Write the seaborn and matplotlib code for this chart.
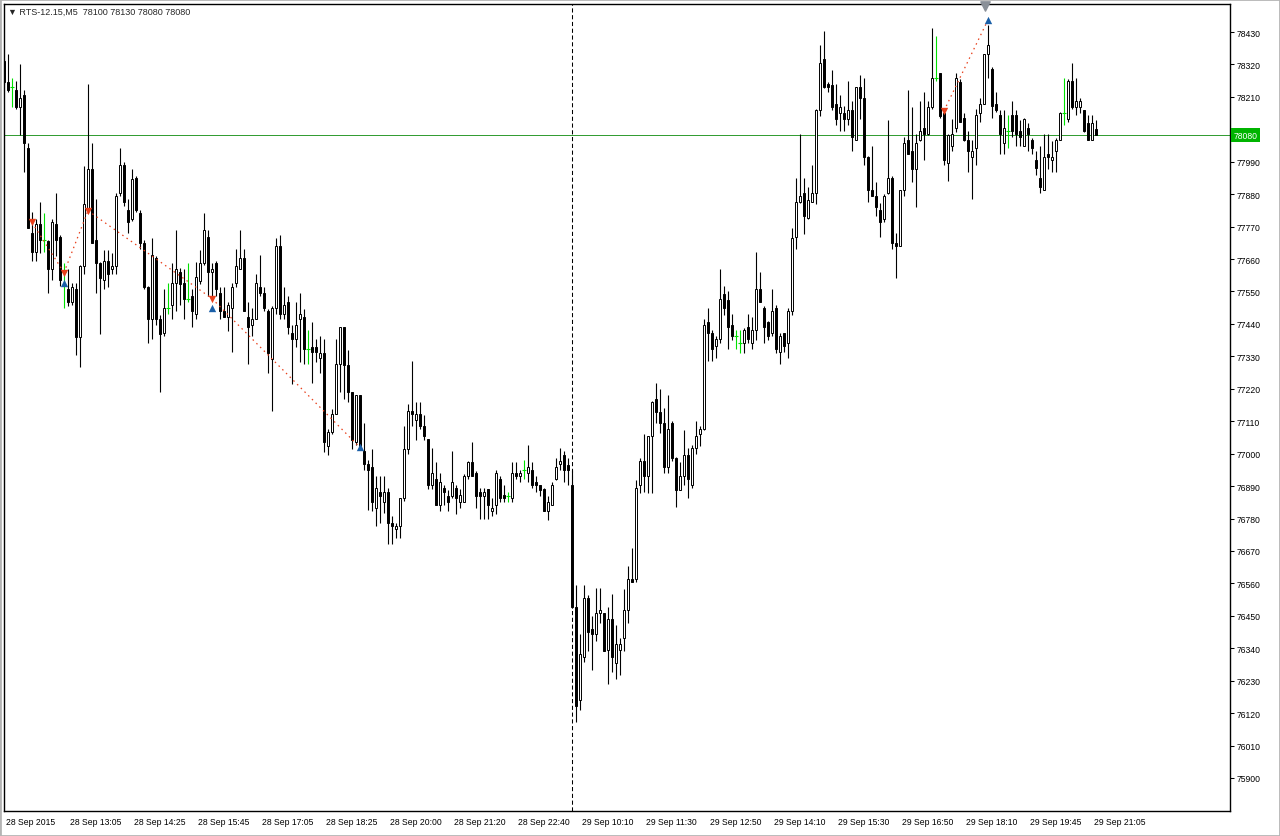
import numpy as np
import pandas as pd
import matplotlib
matplotlib.use("Agg")
import matplotlib.pyplot as plt
import seaborn as sns
from matplotlib.transforms import ScaledTranslation, blended_transform_factory
from matplotlib.patches import Rectangle

# RTS-12.15, M5 candles
opens = [78330, 78260, 78245, 78235, 78175, 78215, 78035, 77750, 77685, 77780,
         77725, 77720, 77625, 77780, 77735, 77615, 77560, 77515, 77560, 77395,
         77635, 77825, 77965, 77725, 77645, 77590, 77655, 77625, 77635, 77885,
         77980, 77825, 77795, 77935, 77815, 77715, 77565, 77455, 77665, 77455,
         77410, 77495, 77505, 77580, 77615, 77580, 77525, 77535, 77475, 77585,
         77645, 77735, 77615, 77645, 77545, 77485, 77465, 77495, 77580, 77625,
         77665, 77465, 77435, 77455, 77565, 77545, 77485, 77320, 77495, 77705,
         77475, 77515, 77410, 77390, 77455, 77465, 77355, 77360, 77360, 77325,
         77340, 77025, 77075, 77135, 77305, 77430, 77300, 77210, 77040, 77200,
         77010, 76965, 76955, 76815, 76870, 76835, 76870, 76765, 76745, 76755,
         76850, 77015, 77145, 77115, 77135, 77095, 77050, 76895, 76915, 76825,
         76885, 76855, 76855, 76885, 76835, 76835, 76925, 76970, 76935, 76870,
         76855, 76880, 76805, 76825, 76915, 76860, 76855, 76850, 76935, 76925,
         76945, 76935, 76945, 76905, 76895, 76880, 76805, 76825, 76915, 76965,
         76995, 76960, 76895, 76480, 76165, 76310, 76510, 76405, 76390, 76460,
         76460, 76335, 76440, 76290, 76335, 76375, 76470, 76575, 76575, 76895,
         76975, 76925, 77060, 77185, 77140, 77105, 76955, 77105, 76985, 76875,
         76925, 76995, 76895, 77020, 77065, 77085, 77445, 77410, 77365, 77390,
         77540, 77520, 77435, 77400, 77375, 77375, 77430, 77375, 77420, 77560,
         77495, 77445, 77410, 77495, 77345, 77410, 77375, 77485, 77735, 77855,
         77885, 77800, 77855, 77885, 78165, 78340, 78255, 78250, 78185, 78155,
         78155, 78135, 78165, 78065, 78245, 78205, 78005, 77895, 77875, 77825,
         77795, 77885, 77935, 77715, 77705, 77895, 78065, 78025, 77965, 78065,
         78105, 78085, 78175, 78275, 78290, 78155, 77985, 78045, 78105, 78260,
         78140, 78065, 78005, 78035, 78155, 78185, 78355, 78305, 78185, 78150,
         78055, 78095, 78150, 78150, 78095, 78045, 78105, 78065, 77995, 77935,
         77895, 78015, 77995, 78025, 78065, 78155, 78135, 78265, 78175, 78175,
         78165, 78120, 78065, 78100]
highs = [78340, 78355, 78275, 78265, 78320, 78235, 78055, 77820, 77795, 77855,
         77815, 77725, 77795, 77885, 77740, 77645, 77625, 77580, 77580, 77640,
         77975, 78255, 78055, 77865, 77650, 77690, 77690, 77680, 77885, 78035,
         77990, 77865, 77965, 77940, 77825, 77725, 77570, 77730, 77670, 77470,
         77560, 77580, 77645, 77760, 77630, 77625, 77645, 77560, 77650, 77690,
         77815, 77760, 77645, 77655, 77565, 77565, 77515, 77580, 77695, 77760,
         77695, 77515, 77495, 77610, 77675, 77565, 77490, 77500, 77730, 77740,
         77565, 77535, 77435, 77515, 77545, 77490, 77420, 77445, 77390, 77400,
         77390, 77085, 77150, 77390, 77430, 77430, 77350, 77210, 77200, 77200,
         77105, 76980, 77015, 76925, 76925, 76925, 76885, 76790, 76765, 76850,
         77095, 77170, 77315, 77175, 77175, 77130, 77050, 77020, 76970, 76935,
         76895, 76875, 77010, 76895, 76880, 76930, 76975, 77040, 76940, 76885,
         76885, 76880, 76850, 76945, 76925, 76895, 76870, 76970, 76970, 76945,
         76980, 77030, 76970, 76925, 76895, 76885, 76855, 76905, 76985, 77020,
         77010, 76985, 76945, 76555, 76390, 76555, 76520, 76450, 76545, 76545,
         76460, 76480, 76525, 76420, 76375, 76540, 76620, 76680, 76910, 76985,
         77065, 77060, 77180, 77240, 77220, 77155, 77200, 77110, 76990, 76970,
         77080, 77020, 77030, 77110, 77095, 77455, 77495, 77420, 77400, 77625,
         77570, 77550, 77475, 77420, 77420, 77425, 77475, 77465, 77685, 77615,
         77500, 77450, 77560, 77505, 77410, 77410, 77495, 77765, 77935, 78085,
         77935, 77905, 77980, 78170, 78385, 78435, 78260, 78300, 78255, 78215,
         78180, 78265, 78195, 78245, 78285, 78275, 78010, 78045, 77920, 77850,
         77880, 78130, 77940, 77750, 77895, 78075, 78235, 78175, 78085, 78195,
         78225, 78195, 78445, 78415, 78290, 78170, 78085, 78135, 78290, 78270,
         78155, 78095, 78065, 78170, 78205, 78355, 78455, 78310, 78225, 78165,
         78165, 78150, 78195, 78165, 78130, 78140, 78120, 78070, 78025, 78045,
         78085, 78085, 78060, 78070, 78160, 78275, 78270, 78325, 78275, 78205,
         78165, 78150, 78150, 78130]
lows = [78255, 78225, 78175, 78170, 78080, 77955, 77765, 77655, 77655, 77680,
        77685, 77545, 77590, 77670, 77570, 77495, 77500, 77505, 77335, 77295,
        77610, 77820, 77715, 77545, 77405, 77560, 77565, 77610, 77610, 77875,
        77840, 77750, 77790, 77820, 77695, 77560, 77375, 77390, 77435, 77210,
        77400, 77475, 77455, 77485, 77505, 77455, 77515, 77430, 77455, 77575,
        77640, 77535, 77535, 77535, 77455, 77465, 77415, 77345, 77565, 77625,
        77485, 77305, 77400, 77455, 77535, 77485, 77275, 77145, 77475, 77455,
        77455, 77405, 77235, 77360, 77310, 77305, 77305, 77240, 77310, 77275,
        77005, 76995, 77065, 77135, 77210, 77185, 77175, 77015, 77030, 77025,
        76945, 76810, 76805, 76755, 76765, 76800, 76695, 76695, 76715, 76715,
        76840, 77000, 77095, 77045, 77085, 77045, 76880, 76880, 76825, 76805,
        76825, 76805, 76850, 76795, 76815, 76835, 76915, 76925, 76815, 76780,
        76780, 76780, 76790, 76795, 76835, 76835, 76835, 76835, 76915, 76905,
        76915, 76905, 76885, 76870, 76855, 76805, 76775, 76825, 76910, 76945,
        76905, 76895, 76475, 76090, 76130, 76295, 76330, 76265, 76365, 76425,
        76330, 76220, 76260, 76235, 76250, 76330, 76425, 76565, 76565, 76865,
        76870, 76865, 76865, 77105, 77070, 76935, 76935, 76975, 76820, 76875,
        76895, 76850, 76885, 77000, 77025, 77080, 77315, 77315, 77325, 77375,
        77470, 77355, 77385, 77355, 77340, 77340, 77375, 77355, 77385, 77515,
        77375, 77385, 77400, 77340, 77305, 77345, 77325, 77470, 77695, 77850,
        77745, 77795, 77855, 77845, 78145, 78240, 78225, 78165, 78115, 78095,
        78095, 78115, 78025, 78065, 78135, 77980, 77855, 77875, 77805, 77735,
        77785, 77880, 77695, 77595, 77705, 77875, 78015, 77920, 77835, 78060,
        77995, 78080, 78170, 78265, 78140, 77980, 77925, 78025, 78090, 78125,
        78060, 77955, 77865, 77980, 78125, 78185, 78275, 78140, 78160, 78015,
        78015, 78035, 78075, 78045, 78045, 78045, 78025, 78015, 77945, 77885,
        77895, 77965, 77955, 77955, 78065, 78115, 78125, 78170, 78150, 78155,
        78090, 78065, 78065, 78080]
closes = [78260, 78235, 78245, 78175, 78205, 78055, 77765, 77685, 77780, 77725,
          77725, 77625, 77785, 77725, 77590, 77615, 77515, 77565, 77395, 77635,
          77845, 77965, 77715, 77645, 77595, 77655, 77610, 77635, 77875, 77980,
          77855, 77785, 77930, 77825, 77715, 77565, 77455, 77675, 77455, 77405,
          77495, 77495, 77580, 77625, 77575, 77525, 77525, 77485, 77600, 77645,
          77760, 77615, 77625, 77560, 77485, 77465, 77505, 77565, 77635, 77665,
          77485, 77430, 77455, 77580, 77545, 77495, 77340, 77495, 77705, 77475,
          77505, 77430, 77390, 77435, 77475, 77355, 77355, 77345, 77345, 77340,
          77040, 77075, 77135, 77305, 77430, 77300, 77210, 77045, 77200, 77025,
          76965, 76945, 76835, 76885, 76855, 76870, 76765, 76755, 76755, 76850,
          77015, 77145, 77135, 77135, 77095, 77060, 76895, 76935, 76825, 76905,
          76870, 76835, 76905, 76850, 76860, 76925, 76970, 76925, 76855, 76855,
          76870, 76825, 76815, 76935, 76850, 76850, 76855, 76935, 76925, 76935,
          76945, 76955, 76895, 76895, 76875, 76805, 76835, 76895, 76955, 76975,
          76945, 76945, 76480, 76145, 76320, 76510, 76395, 76390, 76460, 76470,
          76330, 76440, 76310, 76355, 76355, 76470, 76575, 76565, 76885, 76975,
          76925, 77060, 77175, 77140, 77105, 76955, 77085, 76985, 76875, 76925,
          76995, 76915, 77020, 77060, 77085, 77435, 77410, 77355, 77390, 77525,
          77495, 77430, 77400, 77400, 77375, 77420, 77390, 77420, 77560, 77515,
          77430, 77400, 77485, 77355, 77400, 77365, 77485, 77730, 77855, 77875,
          77805, 77860, 77885, 78165, 78325, 78245, 78245, 78175, 78135, 78175,
          78135, 78165, 78075, 78245, 78205, 78005, 77895, 77875, 77835, 77785,
          77875, 77935, 77715, 77705, 77895, 78055, 78015, 77965, 78055, 78095,
          78085, 78175, 78275, 78275, 78145, 77995, 78080, 78085, 78275, 78125,
          78065, 78025, 78025, 78150, 78185, 78355, 78385, 78180, 78165, 78085,
          78105, 78095, 78095, 78085, 78075, 78135, 78085, 78035, 77970, 77905,
          78005, 78005, 78005, 78065, 78155, 78155, 78265, 78175, 78195, 78195,
          78095, 78065, 78120, 78080]

x_tick_bars = list(range(0, 273, 16))
x_tick_labels = ["28 Sep 2015", "28 Sep 13:05", "28 Sep 14:25", "28 Sep 15:45",
                 "28 Sep 17:05", "28 Sep 18:25", "28 Sep 20:00", "28 Sep 21:20",
                 "28 Sep 22:40", "29 Sep 10:10", "29 Sep 11:30", "29 Sep 12:50",
                 "29 Sep 14:10", "29 Sep 15:30", "29 Sep 16:50", "29 Sep 18:10",
                 "29 Sep 19:45", "29 Sep 21:05"]
y_ticks = list(range(75900, 78431, 110))

# trade history arrows and connecting lines
sell_bars = [7, 15, 21, 52, 235]
sell_prices = [77784, 77614, 77824, 77526, 78163]
buy_bars = [15, 52, 89, 246]
buy_prices = [77580, 77495, 77021, 78471]
trade_lines = [(7, 77784, 15, 77614), (15, 77614, 21, 77824), (21, 77824, 52, 77526),
               (52, 77526, 89, 77021), (235, 78163, 246, 78471)]

day_split_bar = 142
last_price = 78080

df = pd.DataFrame({"bar": np.arange(len(opens)), "open": opens, "high": highs,
                   "low": lows, "close": closes})
doji = df[df.open == df.close]
body = df[df.open != df.close]
up = body.close > body.open

sns.set_style("white")
plt.rcParams["font.family"] = ["Liberation Sans", "DejaVu Sans"]

fig = plt.figure(figsize=(12.8, 8.37), dpi=100)
ax = fig.add_axes([4 / 1280, 25 / 837, 1226 / 1280, 807 / 837])

ax.vlines(body.bar, body.low, body.high, color="black", lw=0.8, zorder=2)
ax.bar(body.bar, (body.close - body.open).abs(), bottom=body[["open", "close"]].min(axis=1),
       width=0.5, color=np.where(up, "white", "black"), edgecolor="black", lw=0.7, zorder=3)
ax.vlines(doji.bar, doji.low, doji.high, color="#00e000", lw=0.8, zorder=3)
ax.hlines(doji.close, doji.bar - 0.4, doji.bar + 0.4, color="#00e000", lw=0.8, zorder=3)

for b0, p0, b1, p1 in trade_lines:
    ax.plot([b0, b1], [p0, p1], color="#e8401c", lw=0.9, ls=(0, (1.2, 3)), zorder=4)
sns.scatterplot(x=sell_bars, y=sell_prices, marker="v", color="#e8401c", s=28,
                linewidth=0, ax=ax, zorder=6)
sns.scatterplot(x=buy_bars, y=buy_prices, marker="^", color="#1a5fa8", s=28,
                linewidth=0, ax=ax, zorder=6)

ax.axvline(day_split_bar, color="black", lw=0.75, ls=(0, (4, 2.5)), zorder=1)
ax.axhline(last_price, color="#2e9a2e", lw=0.7, zorder=1)

ax.set_xlim(0, 306.5)
ax.set_ylim(75788, 78525)
ax.scatter([245.25], [78518], marker="v", color="#8a9098", s=45, clip_on=False, zorder=7)

ax.set_xticks(x_tick_bars)
ax.set_xticklabels(x_tick_labels, ha="left")
ax.set_yticks(y_ticks)
ax.set_yticklabels([str(v) for v in y_ticks])
ax.yaxis.tick_right()
ax.tick_params(axis="both", direction="out", length=3, width=0.75, labelsize=6.2,
               color="black", labelcolor="black", pad=1.5)
for lab in ax.get_xticklabels():
    lab.set_transform(lab.get_transform() + ScaledTranslation(2 / 100, 0, fig.dpi_scale_trans))
for sp in ax.spines.values():
    sp.set_color("black")
    sp.set_linewidth(1)
ax.set_xlabel("")
ax.set_ylabel("")

trans = blended_transform_factory(ax.transAxes, ax.transData)
ax.text(1.003, last_price, "78080", transform=trans, fontsize=6.2, color="white",
        va="center", ha="left", clip_on=False, zorder=8,
        bbox=dict(boxstyle="square,pad=0.3", fc="#00b400", ec="none"))

fig.text(8 / 1280, 1 - 12 / 837, "\u25bc RTS-12.15,M5  78100 78130 78080 78080",
         fontsize=6.5, va="center", ha="left")
fig.add_artist(Rectangle((0, 0), 1, 1, transform=fig.transFigure, fill=False,
                         ec="#b4b4b4", lw=2))

fig.savefig("out.png", dpi=100)
